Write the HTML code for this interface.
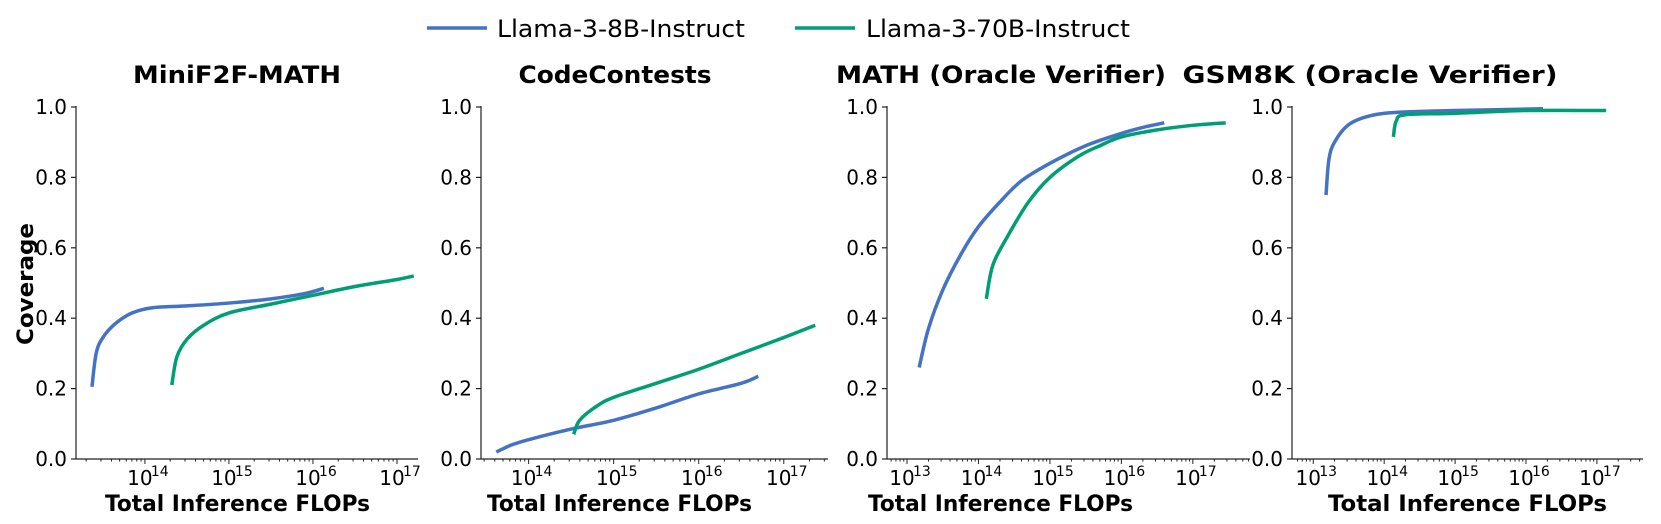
<!DOCTYPE html>
<html><head><meta charset="utf-8">
<style>
html,body{margin:0;padding:0;background:#fff;}
svg{display:block;font-family:"DejaVu Sans","Liberation Sans",sans-serif;}
</style></head>
<body>
<svg id="chart" width="1661" height="524" viewBox="0 0 1661 524" xmlns="http://www.w3.org/2000/svg">
  <g>
    <line x1="427" y1="28" x2="487" y2="28" stroke="#4472C4" stroke-width="3.5"/>
    <text x="497" y="37" font-size="24" textLength="248" lengthAdjust="spacingAndGlyphs">Llama-3-8B-Instruct</text>
    <line x1="795" y1="28" x2="855" y2="28" stroke="#009E73" stroke-width="3.5"/>
    <text x="866" y="37" font-size="24" textLength="264" lengthAdjust="spacingAndGlyphs">Llama-3-70B-Instruct</text>
  </g>
  <text transform="translate(33,284) rotate(-90)" text-anchor="middle" font-size="22" font-weight="bold" textLength="122" lengthAdjust="spacingAndGlyphs">Coverage</text>
</svg>
<script>
// Data (log10 FLOPs, coverage)
const panelTitles = ["MiniF2F-MATH", "CodeContests", "MATH (Oracle Verifier)", "GSM8K (Oracle Verifier)"];
const blueX = [
  [13.37,13.42,13.5,13.65,13.85,14.1,14.5,15,15.5,15.9,16.13],
  [13.62,13.8,14,14.5,15,15.5,16,16.5,16.7],
  [13.17,13.3,13.5,13.75,14,14.3,14.6,15,15.5,16,16.3,16.6],
  [13.18,13.22,13.3,13.5,13.8,14.2,15,16.24]
];
const blueY = [
  [0.205,0.3,0.345,0.385,0.415,0.43,0.435,0.443,0.455,0.47,0.485],
  [0.02,0.04,0.055,0.085,0.11,0.145,0.185,0.215,0.235],
  [0.26,0.37,0.48,0.58,0.66,0.73,0.79,0.84,0.89,0.925,0.942,0.955],
  [0.75,0.85,0.9,0.95,0.975,0.985,0.99,0.995]
];
const greenX = [
  [14.32,14.38,14.5,14.7,15,15.5,16,16.5,17,17.2],
  [14.53,14.6,14.8,15,15.5,16,16.5,17,17.37],
  [14.11,14.2,14.4,14.7,15,15.4,15.7,16,16.5,17,17.46],
  [14.13,14.17,14.3,15,16,17.13]
];
const greenY = [
  [0.21,0.29,0.34,0.38,0.415,0.44,0.465,0.49,0.51,0.52],
  [0.07,0.11,0.15,0.175,0.215,0.255,0.3,0.345,0.38],
  [0.455,0.55,0.63,0.73,0.8,0.86,0.89,0.915,0.935,0.948,0.955],
  [0.915,0.96,0.978,0.982,0.99,0.99]
];
const xTickExps = [[14,15,16,17],[14,15,16,17],[13,14,15,16,17],[13,14,15,16,17]];
const yTicks = [0.0,0.2,0.4,0.6,0.8,1.0];

// layout (not data)
const panels = [
  {l:76, r:418, lmin:13.18, lmax:17.25, tx:237, tw:208},
  {l:481, r:828, lmin:13.44, lmax:17.52, tx:615, tw:193},
  {l:887, r:1250, lmin:12.72, lmax:17.8, tx:1001, tw:330},
  {l:1292, r:1643, lmin:12.70, lmax:17.65, tx:1370, tw:375}
];
const xLabelPos = [[105,265],[487,265],[868,265],[1328,279]];
const Y0 = 459, Y1 = 107;
const NS = "http://www.w3.org/2000/svg";
const svg = document.getElementById('chart');
function mk(tag, attrs, parent){ const e=document.createElementNS(NS,tag); for(const k in attrs) e.setAttribute(k,attrs[k]); (parent||svg).appendChild(e); return e; }
function yS(v){ return Y0 + (Y1-Y0)*v; }

panels.forEach((p,i)=>{
  const xS = lv => p.l + (lv-p.lmin)/(p.lmax-p.lmin)*(p.r-p.l);
  const g = mk('g',{});
  
  
  const t = mk('text',{x:p.tx,y:83,'text-anchor':'middle','font-size':24,'font-weight':'bold',textLength:p.tw,lengthAdjust:'spacingAndGlyphs'},g);
  t.textContent = panelTitles[i];
  
  
  const sy = mk('line',{x1:p.l,y1:Y1-1,x2:p.l,y2:Y0,stroke:'#222','stroke-width':1.2},g);
  
  
  const sx = mk('line',{x1:p.l,y1:Y0,x2:p.r,y2:Y0,stroke:'#222','stroke-width':1.2},g);
  
  
  yTicks.forEach(v=>{
    mk('line',{x1:p.l-5,y1:yS(v),x2:p.l,y2:yS(v),stroke:'#222','stroke-width':1.2},g);
    const tl = mk('text',{x:p.l-9,y:yS(v)+7,'text-anchor':'end','font-size':20},g);
    tl.textContent = v.toFixed(1);
    
    
  });
  for(let d=Math.floor(p.lmin); d<=Math.ceil(p.lmax); d++){
    for(let m=1;m<=9;m++){
      const lv = d+Math.log10(m);
      if(lv<p.lmin||lv>p.lmax) continue;
      const len = m===1?5:2.5;
      mk('line',{x1:xS(lv),y1:Y0,x2:xS(lv),y2:Y0+len,stroke:'#222','stroke-width':1},g);
    }
  }
  xTickExps[i].forEach(e=>{
    const x = xS(e);
    const tl = mk('text',{x:x-5,y:485,'text-anchor':'middle','font-size':20},g);
    tl.textContent = '10';
    
    
    const sup = mk('text',{x:x+6,y:476,'font-size':14},g);
    sup.textContent = String(e);
    
    
  });
  const xl = mk('text',{x:xLabelPos[i][0],y:511,'font-size':22,'font-weight':'bold',textLength:xLabelPos[i][1],lengthAdjust:'spacingAndGlyphs'},g);
  xl.textContent = 'Total Inference FLOPs';
  
  
  const series = [[blueX[i],blueY[i],'#4472C4','line-llama-8b'],[greenX[i],greenY[i],'#009E73','line-llama-70b']];
  series.forEach(s=>{
    const pts = s[0].map((lv,k)=>[xS(lv),yS(s[1][k])]);
    let d = 'M'+pts[0][0]+','+pts[0][1];
    for(let k=1;k<pts.length;k++){
      const p0=pts[k-2]||pts[k-1], p1=pts[k-1], p2=pts[k], p3=pts[k+1]||pts[k];
      const c1=[p1[0]+(p2[0]-p0[0])/6, p1[1]+(p2[1]-p0[1])/6];
      const c2=[p2[0]-(p3[0]-p1[0])/6, p2[1]-(p3[1]-p1[1])/6];
      d += ' C'+c1[0]+','+c1[1]+' '+c2[0]+','+c2[1]+' '+p2[0]+','+p2[1];
    }
    const path = mk('path',{d:d,fill:'none',stroke:s[2],'stroke-width':3.5},g);
    
    
  });
});
</script>
</body></html>
